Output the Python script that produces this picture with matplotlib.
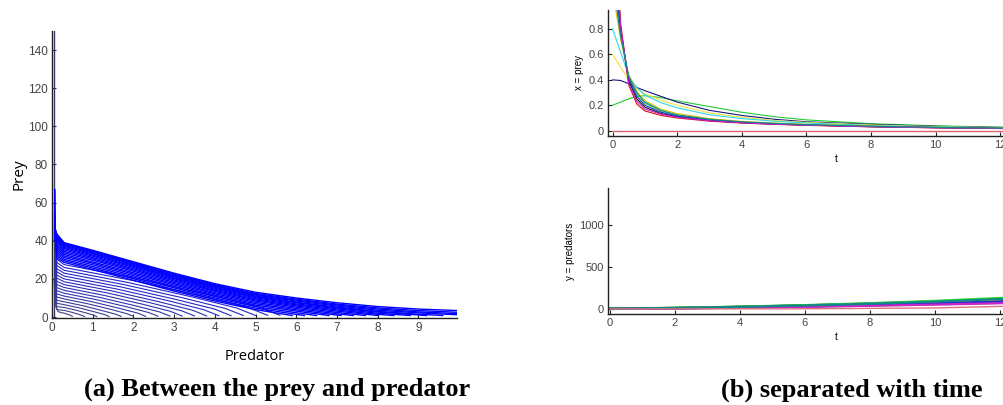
import numpy as np
import matplotlib
matplotlib.use("Agg")
import matplotlib.pyplot as plt

# ---- (a) prey vs predator trajectories ----
inner_x = [
    [0.05, 0.08, 0.15, 0.3, 0.42, 0.5],
    [0.06, 0.12, 0.3, 0.47, 0.63, 0.74, 0.8],
    [0.06, 0.12, 0.3, 0.57, 0.83, 1.02, 1.1],
    [0.06, 0.12, 0.3, 0.67, 1.03, 1.29, 1.4],
    [0.06, 0.12, 0.3, 0.77, 1.23, 1.56, 1.7],
    [0.06, 0.12, 0.3, 0.87, 1.43, 1.83, 2.0],
    [0.06, 0.12, 0.3, 0.97, 1.63, 2.1, 2.3],
    [0.06, 0.12, 0.3, 1.07, 1.83, 2.37, 2.6],
    [0.06, 0.12, 0.3, 1.17, 2.03, 2.64, 2.9],
    [0.06, 0.12, 0.3, 1.27, 2.23, 2.91, 3.2],
    [0.06, 0.12, 0.3, 1.37, 2.43, 3.18, 3.5],
    [0.06, 0.12, 0.3, 1.47, 2.63, 3.45, 3.8],
    [0.06, 0.12, 0.3, 1.57, 2.83, 3.72, 4.1],
    [0.06, 0.12, 0.3, 1.67, 3.03, 3.99, 4.4],
    [0.06, 0.12, 0.3, 1.77, 3.23, 4.26, 4.7],
    [0.06, 0.12, 0.3, 1.87, 3.43, 4.53, 5.0],
    [0.06, 0.12, 0.3, 1.97, 3.63, 4.8, 5.3],
    [0.06, 0.12, 0.3, 2.07, 3.83, 5.07, 5.6],
]
inner_y = [
    [20, 6.0, 2.8, 2.0, 1.2, 0.4],
    [12, 3.9, 3.5, 2.6, 1.6, 0.8, 0.3],
    [14, 5.5, 5.0, 3.7, 2.2, 1.0, 0.3],
    [16, 7.2, 6.5, 4.8, 2.8, 1.3, 0.3],
    [18, 8.8, 8.0, 5.9, 3.4, 1.5, 0.4],
    [20, 10.5, 9.5, 7.0, 4.1, 1.8, 0.4],
    [22, 12.1, 11.0, 8.1, 4.7, 2.1, 0.4],
    [24, 13.8, 12.5, 9.2, 5.4, 2.4, 0.5],
    [26, 15.4, 14.0, 10.3, 6.0, 2.7, 0.5],
    [28, 17.0, 15.5, 11.4, 6.7, 3.0, 0.5],
    [30, 18.7, 17.0, 12.6, 7.4, 3.3, 0.6],
    [32, 20.4, 18.5, 13.7, 8.0, 3.6, 0.6],
    [34, 22.0, 20.0, 14.8, 8.7, 3.9, 0.7],
    [36, 23.7, 21.5, 15.9, 9.3, 4.2, 0.7],
    [38, 25.3, 23.0, 17.0, 10.0, 4.5, 0.8],
    [40, 27.0, 24.5, 18.1, 10.6, 4.8, 0.8],
    [42, 28.6, 26.0, 19.2, 11.3, 5.1, 0.9],
    [44, 30.3, 27.5, 20.3, 11.9, 5.4, 0.9],
]

band_x = [
    [0.07, 0.12, 0.3, 1, 2, 3, 4, 5, 5.9],
    [0.07, 0.12, 0.3, 1, 2, 3, 4, 5, 6, 6.2],
    [0.07, 0.12, 0.3, 1, 2, 3, 4, 5, 6, 6.5],
    [0.07, 0.12, 0.3, 1, 2, 3, 4, 5, 6, 6.8],
    [0.07, 0.12, 0.3, 1, 2, 3, 4, 5, 6, 7, 7.1],
    [0.07, 0.12, 0.3, 1, 2, 3, 4, 5, 6, 7, 7.4],
    [0.07, 0.12, 0.3, 1, 2, 3, 4, 5, 6, 7, 7.7],
    [0.07, 0.12, 0.3, 1, 2, 3, 4, 5, 6, 7, 8],
    [0.07, 0.12, 0.3, 1, 2, 3, 4, 5, 6, 7, 8, 8.4],
    [0.07, 0.12, 0.3, 1, 2, 3, 4, 5, 6, 7, 8, 8.8],
    [0.07, 0.12, 0.3, 1, 2, 3, 4, 5, 6, 7, 8, 9, 9.2],
    [0.07, 0.12, 0.3, 1, 2, 3, 4, 5, 6, 7, 8, 9, 9.6],
    [0.07, 0.12, 0.3, 1, 2, 3, 4, 5, 6, 7, 8, 9, 9.95],
    [0.07, 0.12, 0.3, 1, 2, 3, 4, 5, 6, 7, 8, 9, 9.95],
    [0.07, 0.12, 0.3, 1, 2, 3, 4, 5, 6, 7, 8, 9, 9.95],
    [0.07, 0.12, 0.3, 1, 2, 3, 4, 5, 6, 7, 8, 9, 9.95],
]
band_y = [
    [46, 31, 28.65, 24.9, 19.3, 13.6, 8.4, 3.9, 0.8],
    [46, 32, 29.5, 25.7, 20.1, 14.4, 9.2, 4.7, 1.4, 0.8],
    [46, 33, 30.3, 26.5, 20.9, 15.3, 10.0, 5.5, 2.25, 0.8],
    [46, 34, 31.2, 27.4, 21.7, 16.0, 10.8, 6.3, 3.1, 0.8],
    [46, 35, 32.0, 28.2, 22.5, 16.8, 11.5, 7.0, 3.8, 1.0, 0.8],
    [46, 36, 32.8, 28.9, 23.2, 17.5, 12.2, 7.7, 4.5, 1.7, 0.8],
    [46, 37, 33.6, 29.8, 24.0, 18.2, 12.8, 8.4, 5.2, 2.4, 0.8],
    [46, 38, 34.4, 30.5, 24.7, 18.9, 13.5, 9.0, 5.8, 3.1, 0.8],
    [46, 39, 35.2, 31.2, 25.3, 19.5, 14.0, 9.5, 6.4, 3.7, 1.4, 0.8],
    [46, 40, 35.9, 31.9, 26.0, 20.1, 14.6, 10.1, 6.9, 4.3, 2.0, 0.8],
    [46, 41, 36.5, 32.5, 26.6, 20.6, 15.1, 10.6, 7.5, 4.8, 2.6, 1.1, 0.8],
    [46, 41.5, 37.1, 33.1, 27.1, 21.1, 15.6, 11.0, 7.8, 5.2, 3.0, 1.5, 0.8],
    [46, 42, 37.6, 33.6, 27.6, 21.6, 16.1, 11.5, 8.4, 5.8, 3.6, 2.2, 1.2],
    [46, 42.5, 38.2, 34.1, 28.1, 22.0, 16.5, 11.9, 8.9, 6.3, 4.2, 2.7, 1.8],
    [46, 43, 38.6, 34.6, 28.5, 22.5, 17.0, 12.4, 9.4, 6.8, 4.8, 3.4, 2.5],
    [47, 43.5, 39.0, 35.0, 29.0, 23.0, 17.5, 13.0, 10.0, 7.5, 5.5, 4.2, 3.4],
]

spike_x = [0.06, 0.065, 0.08]
spike_y = [40, 67, 44]
vert_x = [0.05, 0.05]
vert_y = [0, 150]
stub_x = [0.0, 0.0]
stub_y = [0, 8]

# ---- (b) x = prey and y = predators against time ----
t_prey = [0, 0.25, 0.5, 0.75, 1, 1.5, 2, 3, 4, 5, 6, 8, 10, 12, 13.5]
prey = [
    [0.2, 0.225, 0.25, 0.27, 0.275, 0.26, 0.235, 0.19, 0.145, 0.11, 0.085, 0.055, 0.038, 0.028, 0.024],
    [0.4, 0.395, 0.37, 0.34, 0.315, 0.27, 0.225, 0.16, 0.12, 0.09, 0.07, 0.05, 0.035, 0.025, 0.022],
    [0.6, 0.5, 0.4, 0.33, 0.29, 0.24, 0.2, 0.14, 0.105, 0.08, 0.065, 0.045, 0.032, 0.024, 0.02],
    [0.8, 0.62, 0.43, 0.34, 0.28, 0.22, 0.18, 0.125, 0.095, 0.075, 0.06, 0.04, 0.03, 0.022, 0.019],
    [2.0, 0.85, 0.36, 0.21, 0.155, 0.12, 0.1, 0.075, 0.06, 0.05, 0.042, 0.03, 0.022, 0.017, 0.015],
    [1.6, 0.8, 0.39, 0.25, 0.185, 0.135, 0.11, 0.08, 0.063, 0.052, 0.044, 0.032, 0.024, 0.018, 0.016],
    [1.3, 0.76, 0.42, 0.29, 0.215, 0.155, 0.12, 0.088, 0.068, 0.056, 0.047, 0.034, 0.026, 0.02, 0.017],
    [1.1, 0.72, 0.44, 0.31, 0.235, 0.17, 0.135, 0.095, 0.073, 0.06, 0.05, 0.036, 0.027, 0.021, 0.018],
    [1.4, 0.78, 0.41, 0.27, 0.2, 0.145, 0.115, 0.084, 0.066, 0.054, 0.045, 0.033, 0.025, 0.019, 0.016],
    [1.8, 0.82, 0.37, 0.23, 0.17, 0.13, 0.105, 0.078, 0.062, 0.051, 0.043, 0.031, 0.023, 0.017, 0.015],
    [1.2, 0.74, 0.43, 0.3, 0.225, 0.16, 0.125, 0.09, 0.07, 0.058, 0.048, 0.035, 0.026, 0.02, 0.017],
]
prey_zero_t = [0, 13.5]
prey_zero = [0, 0]

t_pred = [0, 2, 4, 6, 8, 10, 12, 13.5]
pred = [
    [0, 6, 16, 27, 40, 55, 72, 88],
    [0, 7, 18, 31, 46, 64, 86, 104],
    [1, 8, 20, 34, 51, 71, 95, 116],
    [2, 10, 22, 37, 55, 77, 104, 127],
    [3, 11, 24, 40, 60, 84, 113, 138],
    [4, 12, 26, 43, 64, 90, 122, 148],
    [5, 14, 28, 46, 69, 97, 131, 160],
    [2, 9, 21, 35, 53, 74, 100, 122],
    [1, 8, 19, 32, 48, 67, 90, 110],
    [0, 6, 15, 25, 38, 52, 68, 82],
    [3, 12, 25, 42, 62, 87, 118, 144],
]
pred_pink_t = [0, 6, 10, 13.5]
pred_pink = [0, 2, 12, 45]

line_cols = ["#22cc33", "#1a1a80", "#f0e040", "#30d8e8", "#dd1111", "#111111",
             "#33dd33", "#e6c800", "#2030d0", "#cc22cc", "#118888"]

tick_col = "#444444"
spine_col = "#222222"
tfont = "Liberation Sans"

fig = plt.figure(figsize=(10.04, 4.05), dpi=100)

# left panel
ax = fig.add_axes([52/1004, (405-318)/405, (457-52)/1004, (318-31)/405])
n_in = len(inner_x)
for i in range(n_in):
    f = i/(n_in-1)
    col = (0.26*(1-f)+0.12*f, 0.26*(1-f)+0.12*f, 0.52*(1-f)+0.85*f)
    ax.plot(inner_x[i], inner_y[i], "-", color=col, lw=0.8)
for i in range(len(band_x)):
    ax.plot(band_x[i], band_y[i], "-", color="#0000ff", lw=1.0)
ax.plot(vert_x, vert_y, "-", color="#3a3a70", lw=1.0)
ax.plot(spike_x, spike_y, "-", color="#0000ff", lw=1.0)
ax.plot(stub_x, stub_y, "-", color="#777777", lw=1.2)
ax.set_xlim(0, 9.95)
ax.set_ylim(-0.5, 150)
ax.set_xticks(range(0, 10))
ax.set_yticks(range(0, 141, 20))
ax.set_xlabel("Predator", fontsize=10.5, family="Open Sans", labelpad=11)
ax.set_ylabel("Prey", fontsize=11, family="Open Sans", labelpad=1)

# right top
bx = fig.add_axes([607.7/1004, (405-136)/405, 14.15*32.3/1004, 126/405])
for i in range(len(prey)):
    bx.plot(t_prey, prey[i], "-", color=line_cols[i], lw=0.8)
bx.plot(prey_zero_t, prey_zero, "-", color="#e06070", lw=1.0)
bx.set_xlim(-0.15, 14)
bx.set_ylim(-0.042, 0.95)
bx.set_xticks(range(0, 15, 2))
bx.set_yticks([0, 0.2, 0.4, 0.6, 0.8])
bx.set_yticklabels(["0", "0.2", "0.4", "0.6", "0.8"])
bx.set_xlabel("t", fontsize=7, family=tfont, labelpad=3)
bx.set_ylabel("x = prey", fontsize=7, family=tfont, labelpad=3)

# right bottom
cx = fig.add_axes([607.7/1004, (405-314)/405, 14.07*32.5/1004, 126/405])
for i in range(len(pred)):
    cx.plot(t_pred, pred[i], "-", color=line_cols[i], lw=1.6)
cx.plot(pred_pink_t, pred_pink, "-", color="#e07080", lw=1.0)
cx.set_xlim(-0.07, 14)
cx.set_ylim(-60, 1440)
cx.set_xticks(range(0, 15, 2))
cx.set_yticks([0, 500, 1000])
cx.set_xlabel("t", fontsize=7, family=tfont, labelpad=3)
cx.set_ylabel("y = predators", fontsize=7, family=tfont, labelpad=3)

for a in [ax, bx, cx]:
    a.spines["top"].set_visible(False)
    a.spines["right"].set_visible(False)
    for s in ["left", "bottom"]:
        a.spines[s].set_color(spine_col)
        a.spines[s].set_linewidth(1.0)
    a.tick_params(direction="in", length=3, width=0.8, colors=spine_col,
                  labelcolor=tick_col, labelsize=8, pad=3)
    for lab in a.get_xticklabels() + a.get_yticklabels():
        lab.set_family(tfont)
ax.tick_params(labelsize=8.5)

fig.text(277/1004, 1-389/405, "(a) Between the prey and predator", ha="center", va="center",
         fontsize=19, fontweight="bold", family="Liberation Serif")
fig.text(852/1004, 1-390/405, "(b) separated with time", ha="center", va="center",
         fontsize=19, fontweight="bold", family="Liberation Serif")

fig.savefig("out.png", dpi=100)
